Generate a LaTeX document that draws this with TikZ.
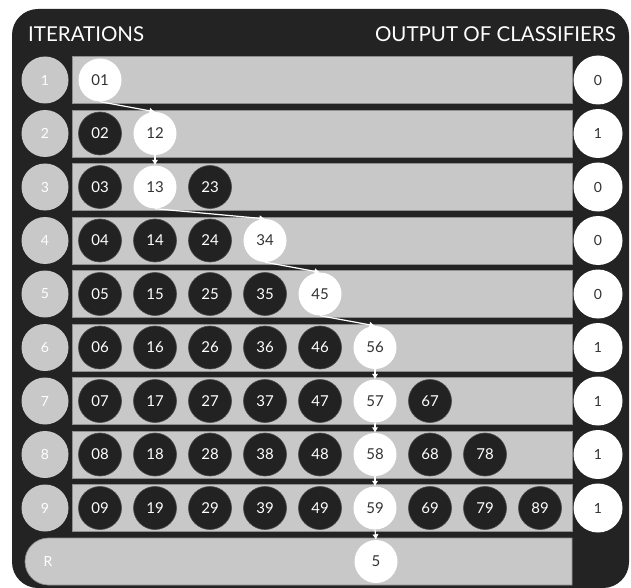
\documentclass[tikz,border=0pt]{standalone}
\usepackage{fontspec}
\setmainfont{Lato}
\usetikzlibrary{arrows.meta}
\definecolor{frame}{HTML}{232323}
\definecolor{band}{HTML}{C8C8C8}
\definecolor{bandedge}{HTML}{8E8E8E}
\definecolor{dk}{HTML}{222222}
\definecolor{dkedge}{HTML}{4A4A4A}
\definecolor{txt}{HTML}{333333}
\begin{document}
\begin{tikzpicture}[x=1pt,y=-1pt,
  bandbox/.style={fill=band,draw=bandedge,line width=0.7pt},
  itlabel/.style={circle,fill=band,minimum size=47pt,inner sep=0pt,text=white,font=\fontsize{14}{14}\selectfont},
  dkball/.style={circle,fill=dk,draw=dkedge,line width=0.6pt,minimum size=43pt,inner sep=0pt,text=white,font=\fontsize{15}{15}\selectfont},
  wtball/.style={circle,fill=white,minimum size=43pt,inner sep=0pt,text=txt,font=\fontsize{15}{15}\selectfont},
  outball/.style={circle,fill=white,minimum size=49pt,inner sep=0pt,text=txt,font=\fontsize{14}{14}\selectfont},
  flow/.style={draw=white,line width=1.2pt,-{Latex[length=5.5pt,width=6.5pt]}},
  head/.style={text=white,font=\fontsize{20.5}{20.5}\selectfont,inner sep=0pt}
]
\useasboundingbox (0,0) rectangle (631,588);
\fill[white] (0,0) rectangle (631,588);
% outer frame
\fill[frame,rounded corners=26pt] (12,9) rectangle (629,588);
% headers
\node[head,anchor=base west] (hl) at (28,41.5) {ITERATIONS};
\node[head,anchor=base east] (hr) at (616,41.5) {OUTPUT OF CLASSIFIERS};
% rows
\foreach \r/\o in {1/0,2/1,3/0,4/0,5/0,6/1,7/1,8/1,9/1}{
  \pgfmathsetmacro{\cy}{80+(\r-1)*53.5}
  \draw[bandbox] (72,\cy-23.5) rectangle (572,\cy+23.5);
  \node[itlabel] (it\r) at (45,\cy) {\r};
  \node[outball] (out\r) at (598,\cy) {\o};
}
% R row
\pgfmathsetmacro{\ry}{80+9*53.5}
\draw[bandbox] (572,\ry-23.5) -- (48.5,\ry-23.5) arc[start angle=90,end angle=270,radius=23.5pt] -- (572,\ry+23.5) -- cycle;
\node[text=white,font=\fontsize{14}{14}\selectfont] (rl) at (48,\ry) {R};
% balls
\foreach \r in {1,...,9}{
  \pgfmathtruncatemacro{\last}{\r-1}
  \pgfmathsetmacro{\cy}{80+(\r-1)*53.5}
  \pgfmathtruncatemacro{\wc}{\r==1 ? 0 : (\r<=3 ? 1 : (\r<=5 ? \r-1 : 5))}
  \foreach \c in {0,...,\last}{
    \pgfmathsetmacro{\cx}{100+\c*55}
    \ifnum\c=\wc
      \node[wtball] (b\c\r) at (\cx,\cy) {\c\r};
    \else
      \node[dkball] (b\c\r) at (\cx,\cy) {\c\r};
    \fi
  }
}
\node[wtball] (res) at (376,\ry) {5};
% flow arrows
\draw[flow] (b01.south) -- (b12.north);
\draw[flow] (b12.south) -- (b13.north);
\draw[flow] (b13.south) -- (b34.north);
\draw[flow] (b34.south) -- (b45.north);
\draw[flow] (b45.south) -- (b56.north);
\draw[flow] (b56.south) -- (b57.north);
\draw[flow] (b57.south) -- (b58.north);
\draw[flow] (b58.south) -- (b59.north);
\draw[flow] (b59.south) -- (res.north);
\end{tikzpicture}
\end{document}
